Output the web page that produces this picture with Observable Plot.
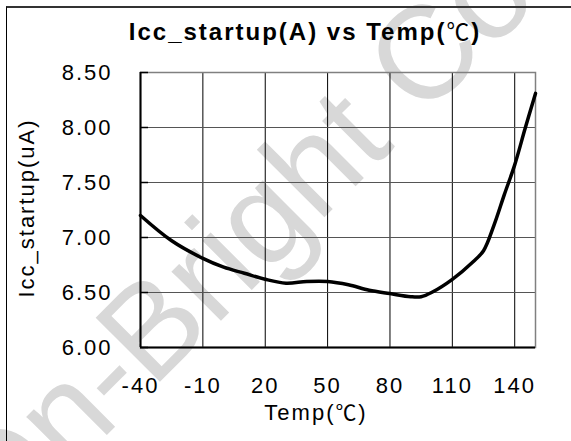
<!DOCTYPE html>
<html>
<head>
<meta charset="utf-8">
<script src="https://cdn.jsdelivr.net/npm/d3@7"></script>
<script src="https://cdn.jsdelivr.net/npm/@observablehq/plot@0.6"></script>
<style>
  html, body { margin: 0; padding: 0; background: #fff; }
  #wrap { position: relative; width: 571px; height: 441px; overflow: hidden; }
  #border { position: absolute; left: 6px; top: 6px; width: 700px; height: 600px;
            border-top: 2px solid #333; border-left: 1.5px solid #000; pointer-events: none; }
  svg text.spaced { letter-spacing: 2px; }
</style>
</head>
<body>
<div id="wrap"><div id="border"></div></div>
<script>
const title = "Icc_startup(A) vs Temp(℃)";
const xLabel = "Temp(℃)";
const yLabel = "Icc_startup(uA)";
const watermark = "On-Bright Co";

const xDomain = [-40, 150];
const yDomain = [6.0, 8.5];
const xTicks = [-40, -10, 20, 50, 80, 110, 140];
const yTicks = [6.0, 6.5, 7.0, 7.5, 8.0, 8.5];

const temps = [-40, -25, -10, 0, 10, 20, 30, 40, 50, 60, 70, 80, 90, 95, 100, 110, 120, 125, 130, 135, 140, 145, 150];
const icc   = [7.20, 6.97, 6.81, 6.73, 6.675, 6.62, 6.585, 6.60, 6.60, 6.57, 6.52, 6.49, 6.462, 6.462, 6.50, 6.62, 6.78, 6.88, 7.11, 7.39, 7.66, 7.99, 8.31];

const data = temps.map((t, i) => ({t, v: icc[i]}));
const font = "'Liberation Sans', Arial, sans-serif";

const chart = Plot.plot({
  width: 571,
  height: 441,
  marginLeft: 140,
  marginRight: 36,
  marginTop: 72,
  marginBottom: 94,
  style: {fontFamily: font, background: "transparent", color: "#000"},
  x: {domain: xDomain, ticks: xTicks},
  y: {domain: yDomain, ticks: yTicks},
  marks: [
    Plot.text([watermark], {frameAnchor: "middle", text: d => d, rotate: -45, fontSize: 132,
      fill: "#d8d8d8", dx: -99, dy: 33, lineAnchor: "middle", textAnchor: "middle"}),
    Plot.gridX(xTicks, {stroke: "#000", strokeOpacity: 1, strokeWidth: 1}),
    Plot.gridY(yTicks, {stroke: "#555", strokeOpacity: 1, strokeWidth: 1}),
    Plot.frame({stroke: "#808080", strokeWidth: 1.5}),
    Plot.ruleX([xDomain[0]], {stroke: "#000", strokeWidth: 2}),
    Plot.ruleY([yDomain[0]], {stroke: "#000", strokeWidth: 2}),
    Plot.axisY({ticks: yTicks, tickSize: 8, dx: 8, tickFormat: () => "", label: null, stroke: "#000", strokeWidth: 1.5}),
    Plot.line(data, {x: "t", y: "v", stroke: "#000", strokeWidth: 3.5, curve: "catmull-rom"}),
    Plot.axisX({ticks: xTicks, tickSize: 0, tickPadding: 30, fontSize: 22, label: null, fill: "#000",
      tickFormat: d => String(d)}),
    Plot.axisY({ticks: yTicks, tickSize: 0, tickPadding: 28, fontSize: 22, label: null, fill: "#000", tickFormat: d3.format(".2f")}),
    Plot.text([title], {frameAnchor: "top", text: d => d, dx: -33, dy: -32.5, lineAnchor: "bottom",
      fontSize: 24, fontWeight: "bold", fill: "#000"}),
    Plot.text([xLabel], {frameAnchor: "bottom", text: d => d, dx: -22, dy: 72, lineAnchor: "bottom",
      fontSize: 22, fill: "#000"}),
    Plot.text([yLabel], {frameAnchor: "left", text: d => d, rotate: -90, dx: -107, dy: -2, lineAnchor: "bottom",
      textAnchor: "middle", fontSize: 22, fill: "#000"})
  ]
});

document.getElementById("wrap").prepend(chart);

// letter spacing for all text except watermark; thin CJK ℃ glyph
d3.select(chart).selectAll("text").each(function() {
  const t = this.textContent;
  if (t === watermark) return;
  this.classList.add("spaced");
  if (t.includes("℃")) {
    const parts = t.split("℃");
    const sel = d3.select(this);
    sel.text(null);
    parts.forEach((p, i) => {
      if (p) sel.append("tspan").text(p);
      if (i < parts.length - 1) sel.append("tspan")
        .attr("font-family", "'Noto Sans CJK SC', sans-serif")
        .attr("font-weight", "normal")
        .attr("font-size", "0.95em")
        .text("℃");
    });
  }
});
</script>
</body>
</html>
